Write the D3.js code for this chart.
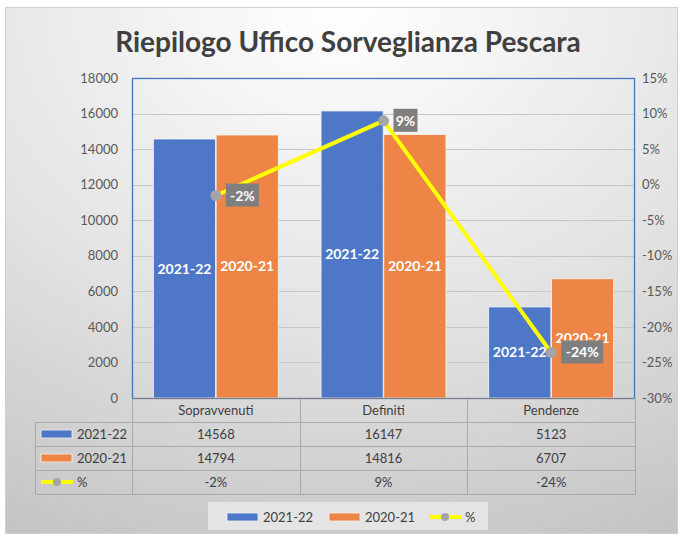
<!DOCTYPE html>
<html>
<head>
<meta charset="utf-8">
<script src="https://cdn.jsdelivr.net/npm/d3@7"></script>
<style>
  body { margin: 0; background: #fff; }
  svg text { font-family: Lato, "Open Sans", sans-serif; }
</style>
</head>
<body>
<div id="chart"></div>
<script>
// chart data
var categories = ["Sopravvenuti", "Definiti", "Pendenze"];
var series = ["2021-22", "2020-21"];
var values2122 = [14568, 16147, 5123];
var values2021 = [14794, 14816, 6707];
var pctValues = [-0.0153, 0.0898, -0.236];
var pctLabels = ["-2%", "9%", "-24%"];
var leftTicks = [0, 2000, 4000, 6000, 8000, 10000, 12000, 14000, 16000, 18000];
var rightTicks = [-0.30, -0.25, -0.20, -0.15, -0.10, -0.05, 0, 0.05, 0.10, 0.15];

var colors = { "2021-22": "#4E77C7", "2020-21": "#EE8546", line: "#FFFF00", marker: "#A5A5A5" };

var W = 683, H = 535;
var plot = { left: 132, right: 635, top: 78, bottom: 398 };
var rowH = 24;

var svg = d3.select("#chart").append("svg")
    .attr("width", W).attr("height", H);

// background gradient like the office chart area
var defs = svg.append("defs");
var grad = defs.append("radialGradient").attr("id", "bg")
    .attr("cx", "50%").attr("cy", "0%").attr("r", "110%");
grad.append("stop").attr("offset", "0%").attr("stop-color", "#ffffff");
grad.append("stop").attr("offset", "55%").attr("stop-color", "#e3e3e3");
grad.append("stop").attr("offset", "100%").attr("stop-color", "#c4c4c4");

svg.append("rect")
    .attr("x", 5.5).attr("y", 7.5).attr("width", 672).attr("height", 526)
    .attr("fill", "url(#bg)").attr("stroke", "#d0d0d0");

svg.append("text")
    .attr("x", 348).attr("y", 52)
    .attr("text-anchor", "middle")
    .attr("font-size", 28).attr("font-weight", "bold")
    .attr("fill", "#404040")
    .text("Riepilogo Uffico Sorveglianza Pescara");

// scales
var x0 = d3.scaleBand().domain(categories).range([plot.left, plot.right])
    .paddingInner(0.255).paddingOuter(0.1275);
var x1 = d3.scaleBand().domain(series).range([0, x0.bandwidth()]).paddingInner(0.01);
var yL = d3.scaleLinear().domain([0, 18000]).range([plot.bottom, plot.top]);
var yR = d3.scaleLinear().domain([-0.30, 0.15]).range([plot.bottom, plot.top]);
var step = x0.step();
var colX = function(i) { return plot.left + i * step; };

// gridlines
svg.append("g").selectAll("line").data(leftTicks.slice(1, -1)).enter().append("line")
    .attr("x1", plot.left).attr("x2", plot.right)
    .attr("y1", d => Math.round(yL(d)) + 0.5).attr("y2", d => Math.round(yL(d)) + 0.5)
    .attr("stroke", "#c6c6c6");

// left axis labels (no thousands separator)
var leftAxis = d3.axisLeft(yL).tickValues(leftTicks).tickSize(0).tickPadding(14)
    .tickFormat(d3.format("d"));
var gL = svg.append("g").attr("transform", "translate(" + plot.left + ",0)").call(leftAxis);
gL.select(".domain").remove();
gL.selectAll("text").attr("font-size", 13).attr("fill", "#595959");

var rightAxis = d3.axisRight(yR).tickValues(rightTicks).tickSize(0).tickPadding(7)
    .tickFormat(d3.format(".0%"));
var gR = svg.append("g").attr("transform", "translate(" + plot.right + ",0)").call(rightAxis);
gR.select(".domain").remove();
gR.selectAll("text").attr("font-size", 13).attr("fill", "#595959")
    .text(d => d3.format(".0%")(d).replace("−", "-"));

// bars
var barData = [];
categories.forEach(function(c, i) {
  barData.push({ cat: c, s: "2021-22", v: values2122[i] });
  barData.push({ cat: c, s: "2020-21", v: values2021[i] });
});
var bars = svg.append("g").selectAll("g").data(barData).enter().append("g");
bars.append("rect")
    .attr("x", d => x0(d.cat) + x1(d.s))
    .attr("y", d => yL(d.v))
    .attr("width", x1.bandwidth())
    .attr("height", d => yL(0) - yL(d.v))
    .attr("fill", d => colors[d.s])
    .attr("stroke", "#f4f4f4").attr("stroke-width", 0.8);
bars.append("text")
    .attr("x", d => x0(d.cat) + x1(d.s) + x1.bandwidth() / 2)
    .attr("y", d => (yL(d.v) + yL(0)) / 2 + 5)
    .attr("text-anchor", "middle")
    .attr("font-size", 14).attr("font-weight", "bold").attr("fill", "#fff")
    .text(d => d.s);

// plot area border (blue)
svg.append("rect")
    .attr("x", plot.left + 0.5).attr("y", plot.top + 0.5)
    .attr("width", plot.right - plot.left - 1).attr("height", plot.bottom - plot.top)
    .attr("fill", "none").attr("stroke", "#4472C4").attr("stroke-width", 1.3);

// percent line
var lineData = categories.map((c, i) => ({ cat: c, v: pctValues[i], label: pctLabels[i] }));
var line = d3.line().x(d => x0(d.cat) + x0.bandwidth() / 2).y(d => yR(d.v));
svg.append("path").datum(lineData)
    .attr("d", line).attr("fill", "none")
    .attr("stroke", colors.line).attr("stroke-width", 4);
var pts = svg.append("g").selectAll("g").data(lineData).enter().append("g")
    .attr("transform", d => "translate(" + (x0(d.cat) + x0.bandwidth() / 2) + "," + yR(d.v) + ")");
pts.append("circle").attr("r", 5.5).attr("fill", colors.marker);
pts.append("rect")
    .attr("x", 10).attr("y", -12)
    .attr("width", d => d.label.length * 9 + 6).attr("height", 23)
    .attr("fill", "#7F7F7F");
pts.append("text")
    .attr("x", d => 13 + (d.label.length * 9) / 2).attr("y", 5)
    .attr("text-anchor", "middle")
    .attr("font-size", 14).attr("font-weight", "bold").attr("fill", "#fff")
    .text(d => d.label);

// data table
var tbl = svg.append("g").attr("stroke", "#a9a9a9").attr("fill", "none");
var tableLeft = 35.5, tableBottom = plot.bottom + rowH * 4;
// horizontal lines
[1, 2, 3, 4].forEach(function(r) {
  tbl.append("line")
      .attr("x1", tableLeft).attr("x2", plot.right)
      .attr("y1", plot.bottom + r * rowH + 0.5).attr("y2", plot.bottom + r * rowH + 0.5);
});
// vertical lines
[0, 1, 2, 3].forEach(function(i) {
  tbl.append("line")
      .attr("x1", Math.round(colX(i)) + 0.5).attr("x2", Math.round(colX(i)) + 0.5)
      .attr("y1", plot.bottom).attr("y2", tableBottom + 0.5);
});
tbl.append("line")
    .attr("x1", tableLeft).attr("x2", tableLeft)
    .attr("y1", plot.bottom + rowH).attr("y2", tableBottom + 0.5);
// x axis line
svg.append("line")
    .attr("x1", plot.left).attr("x2", plot.right)
    .attr("y1", plot.bottom + 0.5).attr("y2", plot.bottom + 0.5)
    .attr("stroke", "#7f7f7f").attr("stroke-width", 1.2);

var cellText = function(txt, i, r) {
  svg.append("text")
      .attr("x", colX(i) + step / 2).attr("y", plot.bottom + r * rowH + 17)
      .attr("text-anchor", "middle")
      .attr("font-size", 13).attr("fill", "#404040")
      .text(txt);
};
categories.forEach(function(c, i) {
  cellText(c, i, 0);
  cellText(values2122[i], i, 1);
  cellText(values2021[i], i, 2);
  cellText(pctLabels[i], i, 3);
});

// legend keys (used in table and legend)
function drawKey(g, key, x, y) {
  if (key === "%") {
    g.append("line").attr("x1", x).attr("x2", x + 32).attr("y1", y).attr("y2", y)
        .attr("stroke", colors.line).attr("stroke-width", 4);
    g.append("circle").attr("cx", x + 16).attr("cy", y).attr("r", 4).attr("fill", colors.marker);
  } else {
    g.append("rect").attr("x", x).attr("y", y - 4).attr("width", 31).attr("height", 8)
        .attr("fill", colors[key]).attr("stroke", "#f0f0f0").attr("stroke-width", 0.8);
  }
  g.append("text").attr("x", x + 36).attr("y", y + 5)
      .attr("font-size", 13).attr("fill", "#404040").text(key);
}
var keys = series.concat(["%"]);
var tk = svg.append("g");
keys.forEach(function(k, r) {
  drawKey(tk, k, 41, plot.bottom + (r + 1) * rowH + 12);
});

// legend box
var lg = svg.append("g");
lg.append("rect").attr("x", 208).attr("y", 502).attr("width", 280).attr("height", 28)
    .attr("fill", "#e4e4e4");
var legendX = [227, 329, 429];
keys.forEach(function(k, i) { drawKey(lg, k, legendX[i], 517); });
</script>
</body>
</html>
